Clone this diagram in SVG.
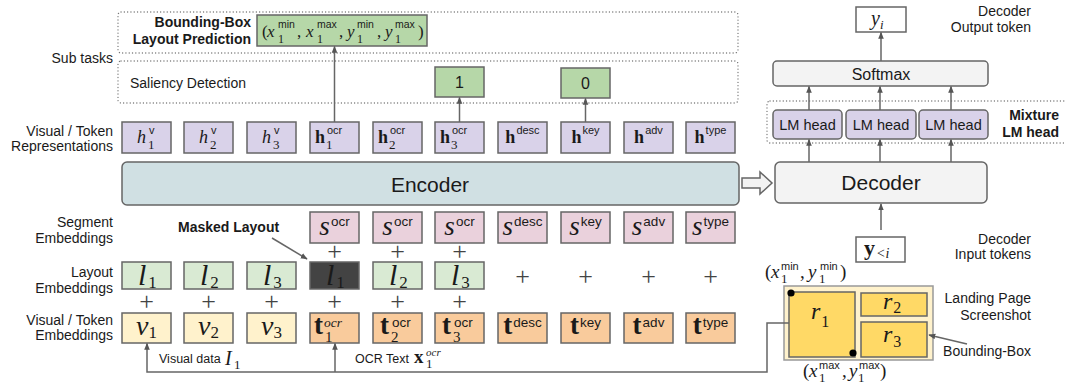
<svg xmlns="http://www.w3.org/2000/svg" width="1065" height="385" viewBox="0 0 1065 385">
<style>
  .box{stroke:#666;stroke-width:1.5}
  .hb{fill:#d9d2e9}
  .sb{fill:#ead1dc}
  .lb{fill:#d9ead3}
  .vb{fill:#fff2cc}
  .tb{fill:#f9cb9c}
  .gb{fill:#b6d7a8}
  .wb{fill:#ffffff}
  .gray{fill:#f3f3f3}
  .dot{fill:none;stroke:#777;stroke-width:1.3;stroke-dasharray:0.1 3.2;stroke-linecap:round}
  .ln{fill:none;stroke:#666;stroke-width:1.5}
  text{fill:#1a1a1a}
  .lbl{font-family:"Liberation Sans",Arial,sans-serif}
  .bd{font-family:"Liberation Sans",Arial,sans-serif;font-weight:bold}
  .sf{font-family:"Liberation Sans",Arial,sans-serif;font-style:normal;font-weight:normal}
  .mi{font-family:"Liberation Serif","Times New Roman",serif;font-style:italic;font-weight:normal}
  .mb{font-family:"Liberation Serif","Times New Roman",serif;font-weight:bold;font-style:normal}
  .rm{font-family:"Liberation Serif","Times New Roman",serif;font-style:normal;font-weight:normal}
  .plus{font-family:"Liberation Serif","Times New Roman",serif;font-size:26px;fill:#444;text-anchor:middle}
  .end{text-anchor:end}
  .mid{text-anchor:middle}
</style>
<defs>
  <marker id="ah" viewBox="0 0 10 10" refX="9" refY="5" markerWidth="7" markerHeight="7" markerUnits="userSpaceOnUse" orient="auto">
    <path d="M0,1 L10,5 L0,9 z" fill="#555"/>
  </marker>
</defs>

<!-- row labels -->
<g id="row-labels" class="lbl" font-size="14">
  <text class="end" x="113" y="63">Sub tasks</text>
  <text class="end" x="113" y="136">Visual / Token</text>
  <text class="end" x="113" y="151">Representations</text>
  <text class="end" x="113" y="227">Segment</text>
  <text class="end" x="113" y="243">Embeddings</text>
  <text class="end" x="113" y="277">Layout</text>
  <text class="end" x="113" y="293">Embeddings</text>
  <text class="end" x="113" y="325">Visual / Token</text>
  <text class="end" x="113" y="340">Embeddings</text>
  <text class="end" x="1031" y="16">Decoder</text>
  <text class="end" x="1031" y="32">Output token</text>
  <text class="end" x="1031" y="244">Decoder</text>
  <text class="end" x="1031" y="259">Input tokens</text>
  <text class="end" x="1031" y="303">Landing Page</text>
  <text class="end" x="1031" y="320">Screenshot</text>
  <text class="end" x="1031" y="356">Bounding-Box</text>
</g>

<!-- sub task regions -->
<g id="subtasks">
  <rect class="dot" x="118" y="12" width="620" height="41" rx="3"/>
  <rect class="dot" x="118" y="61" width="620" height="42" rx="3"/>
  <text class="bd end" x="251" y="27" font-size="14">Bounding-Box</text>
  <text class="bd end" x="251" y="44" font-size="14">Layout Prediction</text>
  <text class="lbl" x="130" y="88" font-size="14">Saliency Detection</text>
</g>

<g id="bbox-pred">
  <rect class="box gb" x="257" y="15" width="170" height="31"/>
  <text class="rm" x="262" y="37" font-size="17">(<tspan class="mi" x="267" y="37">x</tspan><tspan class="sf" font-size="10.5" x="278" y="28">min</tspan><tspan font-size="12" x="278" y="43">1</tspan><tspan x="297" y="37">,</tspan><tspan class="mi" x="306" y="37">x</tspan><tspan class="sf" font-size="10.5" x="317" y="28">max</tspan><tspan font-size="12" x="317" y="43">1</tspan><tspan x="339" y="37">,</tspan><tspan class="mi" x="347" y="37">y</tspan><tspan class="sf" font-size="10.5" x="357" y="28">min</tspan><tspan font-size="12" x="357" y="43">1</tspan><tspan x="377" y="37">,</tspan><tspan class="mi" x="385" y="37">y</tspan><tspan class="sf" font-size="10.5" x="395" y="28">max</tspan><tspan font-size="12" x="395" y="43">1</tspan><tspan x="418" y="37">)</tspan></text>
</g>

<g id="saliency-1">
  <rect class="box gb" x="435" y="67" width="49" height="30"/>
  <text class="sf mid" x="459.5" y="88" font-size="16">1</text>
</g>
<g id="saliency-0">
  <rect class="box gb" x="561" y="68" width="49" height="30"/>
  <text class="sf mid" x="585.5" y="89" font-size="16">0</text>
</g>

<!-- encoder representations -->
<g id="rep-h1v"><rect class="box hb" x="122" y="122" width="49" height="31"/>
  <text class="mi" x="137" y="143" font-size="18">h<tspan class="sf" font-size="11" x="149" y="134">v</tspan><tspan class="rm" font-size="13" x="148" y="149">1</tspan></text></g>
<g id="rep-h2v"><rect class="box hb" x="184" y="122" width="49" height="31"/>
  <text class="mi" x="199" y="143" font-size="18">h<tspan class="sf" font-size="11" x="211" y="134">v</tspan><tspan class="rm" font-size="13" x="210" y="149">2</tspan></text></g>
<g id="rep-h3v"><rect class="box hb" x="247" y="122" width="49" height="31"/>
  <text class="mi" x="262" y="143" font-size="18">h<tspan class="sf" font-size="11" x="274" y="134">v</tspan><tspan class="rm" font-size="13" x="273" y="149">3</tspan></text></g>
<g id="rep-h1ocr"><rect class="box hb" x="310" y="122" width="49" height="31"/>
  <text class="mb" x="315" y="143" font-size="18">h<tspan class="sf" font-size="11" x="327" y="134">ocr</tspan><tspan class="rm" font-size="13" x="326" y="149">1</tspan></text></g>
<g id="rep-h2ocr"><rect class="box hb" x="373" y="122" width="49" height="31"/>
  <text class="mb" x="378" y="143" font-size="18">h<tspan class="sf" font-size="11" x="390" y="134">ocr</tspan><tspan class="rm" font-size="13" x="389" y="149">2</tspan></text></g>
<g id="rep-h3ocr"><rect class="box hb" x="435" y="122" width="49" height="31"/>
  <text class="mb" x="440" y="143" font-size="18">h<tspan class="sf" font-size="11" x="452" y="134">ocr</tspan><tspan class="rm" font-size="13" x="451" y="149">3</tspan></text></g>
<g id="rep-hdesc"><rect class="box hb" x="498" y="122" width="49" height="31"/>
  <text class="mid" x="522.5" y="143"><tspan class="mb" font-size="18">h</tspan><tspan class="sf" font-size="11" dx="1" dy="-9">desc</tspan></text></g>
<g id="rep-hkey"><rect class="box hb" x="561" y="122" width="49" height="31"/>
  <text class="mid" x="585.5" y="143"><tspan class="mb" font-size="18">h</tspan><tspan class="sf" font-size="11" dx="1" dy="-9">key</tspan></text></g>
<g id="rep-hadv"><rect class="box hb" x="624" y="122" width="49" height="31"/>
  <text class="mid" x="648.5" y="143"><tspan class="mb" font-size="18">h</tspan><tspan class="sf" font-size="11" dx="1" dy="-9">adv</tspan></text></g>
<g id="rep-htype"><rect class="box hb" x="686" y="122" width="49" height="31"/>
  <text class="mid" x="710.5" y="143"><tspan class="mb" font-size="18">h</tspan><tspan class="sf" font-size="11" dx="1" dy="-9">type</tspan></text></g>

<g id="encoder">
  <rect class="box" fill="#d0e0e3" x="122" y="162" width="617" height="43" rx="5"/>
  <text class="sf mid" x="430" y="192" font-size="21">Encoder</text>
</g>

<!-- segment embeddings -->
<g id="seg-ocr1"><rect class="box sb" x="310" y="212" width="49" height="31"/>
  <text class="mid" x="334.5" y="235"><tspan class="mi" font-size="27">s</tspan><tspan class="sf" font-size="13.5" dx="1" dy="-9">ocr</tspan></text></g>
<g id="seg-ocr2"><rect class="box sb" x="373" y="212" width="49" height="31"/>
  <text class="mid" x="397.5" y="235"><tspan class="mi" font-size="27">s</tspan><tspan class="sf" font-size="13.5" dx="1" dy="-9">ocr</tspan></text></g>
<g id="seg-ocr3"><rect class="box sb" x="435" y="212" width="49" height="31"/>
  <text class="mid" x="459.5" y="235"><tspan class="mi" font-size="27">s</tspan><tspan class="sf" font-size="13.5" dx="1" dy="-9">ocr</tspan></text></g>
<g id="seg-desc"><rect class="box sb" x="498" y="212" width="49" height="31"/>
  <text class="mid" x="522.5" y="235"><tspan class="mi" font-size="27">s</tspan><tspan class="sf" font-size="13.5" dx="1" dy="-9">desc</tspan></text></g>
<g id="seg-key"><rect class="box sb" x="561" y="212" width="49" height="31"/>
  <text class="mid" x="585.5" y="235"><tspan class="mi" font-size="27">s</tspan><tspan class="sf" font-size="13.5" dx="1" dy="-9">key</tspan></text></g>
<g id="seg-adv"><rect class="box sb" x="624" y="212" width="49" height="31"/>
  <text class="mid" x="648.5" y="235"><tspan class="mi" font-size="27">s</tspan><tspan class="sf" font-size="13.5" dx="1" dy="-9">adv</tspan></text></g>
<g id="seg-type"><rect class="box sb" x="686" y="212" width="49" height="31"/>
  <text class="mid" x="710.5" y="235"><tspan class="mi" font-size="27">s</tspan><tspan class="sf" font-size="13.5" dx="1" dy="-9">type</tspan></text></g>

<!-- layout embeddings -->
<g id="lay-l1"><rect class="box lb" x="122" y="262" width="49" height="27"/>
  <text class="mi" x="138" y="285" font-size="30">l<tspan class="rm" font-size="17" dx="2" dy="3">1</tspan></text></g>
<g id="lay-l2"><rect class="box lb" x="184" y="262" width="49" height="27"/>
  <text class="mi" x="200" y="285" font-size="30">l<tspan class="rm" font-size="17" dx="2" dy="3">2</tspan></text></g>
<g id="lay-l3"><rect class="box lb" x="247" y="262" width="49" height="27"/>
  <text class="mi" x="263" y="285" font-size="30">l<tspan class="rm" font-size="17" dx="2" dy="3">3</tspan></text></g>
<g id="lay-masked"><rect class="box" fill="#434343" x="310" y="262" width="49" height="27"/>
  <text class="mi" x="326" y="285" font-size="30">l<tspan class="rm" font-size="17" dx="2" dy="3">1</tspan></text></g>
<g id="lay-ocr2"><rect class="box lb" x="373" y="262" width="49" height="27"/>
  <text class="mi" x="389" y="285" font-size="30">l<tspan class="rm" font-size="17" dx="2" dy="3">2</tspan></text></g>
<g id="lay-ocr3"><rect class="box lb" x="435" y="262" width="49" height="27"/>
  <text class="mi" x="451" y="285" font-size="30">l<tspan class="rm" font-size="17" dx="2" dy="3">3</tspan></text></g>

<!-- token embeddings -->
<g id="tok-v1"><rect class="box vb" x="122" y="313" width="49" height="30"/>
  <text class="mi" x="136" y="335" font-size="28">v<tspan class="rm" font-size="17" dx="0" dy="3">1</tspan></text></g>
<g id="tok-v2"><rect class="box vb" x="184" y="313" width="49" height="30"/>
  <text class="mi" x="198" y="335" font-size="28">v<tspan class="rm" font-size="17" dx="0" dy="3">2</tspan></text></g>
<g id="tok-v3"><rect class="box vb" x="247" y="313" width="49" height="30"/>
  <text class="mi" x="261" y="335" font-size="28">v<tspan class="rm" font-size="17" dx="0" dy="3">3</tspan></text></g>
<g id="tok-t1ocr"><rect class="box tb" x="310" y="313" width="49" height="30"/>
  <text class="mb" x="314" y="334" font-size="27">t<tspan class="mi" font-size="13.5" x="324" y="327">ocr</tspan><tspan class="rm" font-size="15" x="325" y="342">1</tspan></text></g>
<g id="tok-t2ocr"><rect class="box tb" x="373" y="313" width="49" height="30"/>
  <text class="mb" x="380" y="334" font-size="27">t<tspan class="sf" font-size="13.5" x="392" y="327">ocr</tspan><tspan class="rm" font-size="15" x="391" y="342">2</tspan></text></g>
<g id="tok-t3ocr"><rect class="box tb" x="435" y="313" width="49" height="30"/>
  <text class="mb" x="442" y="334" font-size="27">t<tspan class="sf" font-size="13.5" x="454" y="327">ocr</tspan><tspan class="rm" font-size="15" x="453" y="342">3</tspan></text></g>
<g id="tok-desc"><rect class="box tb" x="498" y="313" width="49" height="30"/>
  <text class="mid" x="522.5" y="334"><tspan class="mb" font-size="27">t</tspan><tspan class="sf" font-size="13.5" dx="1" dy="-7">desc</tspan></text></g>
<g id="tok-key"><rect class="box tb" x="561" y="313" width="49" height="30"/>
  <text class="mid" x="585.5" y="334"><tspan class="mb" font-size="27">t</tspan><tspan class="sf" font-size="13.5" dx="1" dy="-7">key</tspan></text></g>
<g id="tok-adv"><rect class="box tb" x="624" y="313" width="49" height="30"/>
  <text class="mid" x="648.5" y="334"><tspan class="mb" font-size="27">t</tspan><tspan class="sf" font-size="13.5" dx="1" dy="-7">adv</tspan></text></g>
<g id="tok-type"><rect class="box tb" x="686" y="313" width="49" height="30"/>
  <text class="mid" x="710.5" y="334"><tspan class="mb" font-size="27">t</tspan><tspan class="sf" font-size="13.5" dx="1" dy="-7">type</tspan></text></g>

<!-- summation signs between embedding rows -->
<g id="sums">
  <text class="plus" x="334.5" y="260">+</text>
  <text class="plus" x="397.5" y="260">+</text>
  <text class="plus" x="459.5" y="260">+</text>
  <text class="plus" x="522.5" y="285">+</text>
  <text class="plus" x="585.5" y="285">+</text>
  <text class="plus" x="648.5" y="285">+</text>
  <text class="plus" x="710.5" y="285">+</text>
  <text class="plus" x="146.5" y="310">+</text>
  <text class="plus" x="208.5" y="310">+</text>
  <text class="plus" x="271.5" y="310">+</text>
  <text class="plus" x="334.5" y="310">+</text>
  <text class="plus" x="397.5" y="310">+</text>
  <text class="plus" x="459.5" y="310">+</text>
</g>

<g id="masked-label">
  <text class="bd" x="178" y="232" font-size="14">Masked Layout</text>
</g>

<g id="input-labels">
  <text class="lbl" x="159" y="363" font-size="12.5">Visual data<tspan class="mi" font-size="20" x="225" y="365">I</tspan><tspan class="rm" font-size="13" x="234" y="369">1</tspan></text>
  <text class="lbl" x="355" y="363" font-size="12.5">OCR Text<tspan class="mb" font-size="19" x="414" y="363">x</tspan><tspan class="mi" font-size="11" x="426" y="356">ocr</tspan><tspan class="rm" font-size="13" x="426" y="368">1</tspan></text>
</g>

<!-- decoder side -->
<g id="encdec-arrow">
  <polygon class="box gray" points="742,178 760,178 760,172 772,183 760,194 760,188 742,188"/>
</g>

<g id="decoder">
  <rect class="box gray" x="775" y="162" width="212" height="41" rx="5"/>
  <text class="sf mid" x="881" y="190" font-size="21">Decoder</text>
</g>

<g id="mixture">
  <rect class="dot" x="767" y="101" width="310" height="42" rx="3"/>
  <text class="bd end" x="1059" y="120" font-size="14">Mixture</text>
  <text class="bd end" x="1059" y="137" font-size="14">LM head</text>
</g>
<g id="lm-head-1"><rect class="box hb" x="773" y="110" width="69" height="29" rx="4"/>
  <text class="sf mid" x="807.5" y="130" font-size="14.5">LM head</text></g>
<g id="lm-head-2"><rect class="box hb" x="846" y="110" width="70" height="29" rx="4"/>
  <text class="sf mid" x="881" y="130" font-size="14.5">LM head</text></g>
<g id="lm-head-3"><rect class="box hb" x="919" y="110" width="69" height="29" rx="4"/>
  <text class="sf mid" x="953.5" y="130" font-size="14.5">LM head</text></g>

<g id="softmax">
  <rect class="box gray" x="773" y="61" width="215" height="25" rx="4"/>
  <text class="sf mid" x="881" y="80" font-size="16">Softmax</text>
</g>

<g id="out-yi">
  <rect class="box wb" x="856" y="7" width="50" height="25"/>
  <text class="mi" x="871" y="25" font-size="20">y<tspan font-size="13" dx="0" dy="4">i</tspan></text>
</g>

<g id="in-yltI">
  <rect class="box wb" x="856" y="237" width="49" height="25"/>
  <text class="mb" x="864" y="255" font-size="22">y<tspan class="mi" font-size="14" dx="1" dy="3">&lt;i</tspan></text>
</g>

<!-- landing page screenshot -->
<g id="screenshot">
  <rect fill="#fff2cc" stroke="#999" stroke-width="1.5" x="784" y="286" width="149" height="74"/>
  <rect class="box" fill="#ffd966" x="789" y="292" width="66" height="65"/>
  <rect class="box" fill="#ffd966" x="861" y="293" width="66" height="23"/>
  <rect class="box" fill="#ffd966" x="861" y="322" width="66" height="35"/>
  <circle cx="791" cy="293" r="3.6" fill="#000"/>
  <circle cx="853" cy="353" r="3.6" fill="#000"/>
  <text class="mi" x="811" y="319" font-size="24">r<tspan class="rm" font-size="16" dx="1" dy="8">1</tspan></text>
  <text class="mi" x="883" y="309" font-size="24">r<tspan class="rm" font-size="16" dx="1" dy="4">2</tspan></text>
  <text class="mi" x="883" y="342" font-size="24">r<tspan class="rm" font-size="16" dx="1" dy="5">3</tspan></text>
</g>

<g id="corner-min">
  <text class="rm" x="765" y="278" font-size="19">(<tspan class="mi" x="771" y="278">x</tspan><tspan class="sf" font-size="11" x="781" y="270">min</tspan><tspan font-size="13" x="781" y="283">1</tspan><tspan x="800" y="278">,</tspan><tspan class="mi" x="808" y="278">y</tspan><tspan class="sf" font-size="11" x="820" y="270">min</tspan><tspan font-size="13" x="819" y="283">1</tspan><tspan x="840" y="278">)</tspan></text>
</g>
<g id="corner-max">
  <text class="rm" x="803" y="377" font-size="19">(<tspan class="mi" x="809" y="377">x</tspan><tspan class="sf" font-size="11" x="819" y="369">max</tspan><tspan font-size="13" x="819" y="382">1</tspan><tspan x="842" y="377">,</tspan><tspan class="mi" x="849" y="377">y</tspan><tspan class="sf" font-size="11" x="859" y="369">max</tspan><tspan font-size="13" x="858" y="382">1</tspan><tspan x="880" y="377">)</tspan></text>
</g>

<!-- connectors -->
<g id="connectors" class="ln">
  <path d="M334.5 122 V46.5" marker-end="url(#ah)"/>
  <path d="M459.5 122 V97.5" marker-end="url(#ah)"/>
  <path d="M585.5 122 V98.5" marker-end="url(#ah)"/>
  <path d="M881 61 V32.5" marker-end="url(#ah)"/>
  <path d="M809 110 V86.5" marker-end="url(#ah)"/>
  <path d="M880 110 V86.5" marker-end="url(#ah)"/>
  <path d="M951 110 V86.5" marker-end="url(#ah)"/>
  <path d="M809 162 V139.5" marker-end="url(#ah)"/>
  <path d="M880 162 V139.5" marker-end="url(#ah)"/>
  <path d="M951 162 V139.5" marker-end="url(#ah)"/>
  <path d="M881 230 V204" marker-end="url(#ah)"/>
  <path d="M272 238 L307 259" marker-end="url(#ah)"/>
  <path d="M967 344 L929 335" marker-end="url(#ah)"/>
  <path d="M789 323 H767 V372 H147 V343.5" marker-end="url(#ah)"/>
  <path d="M335 372 V343.5" marker-end="url(#ah)"/>
</g>
</svg>
